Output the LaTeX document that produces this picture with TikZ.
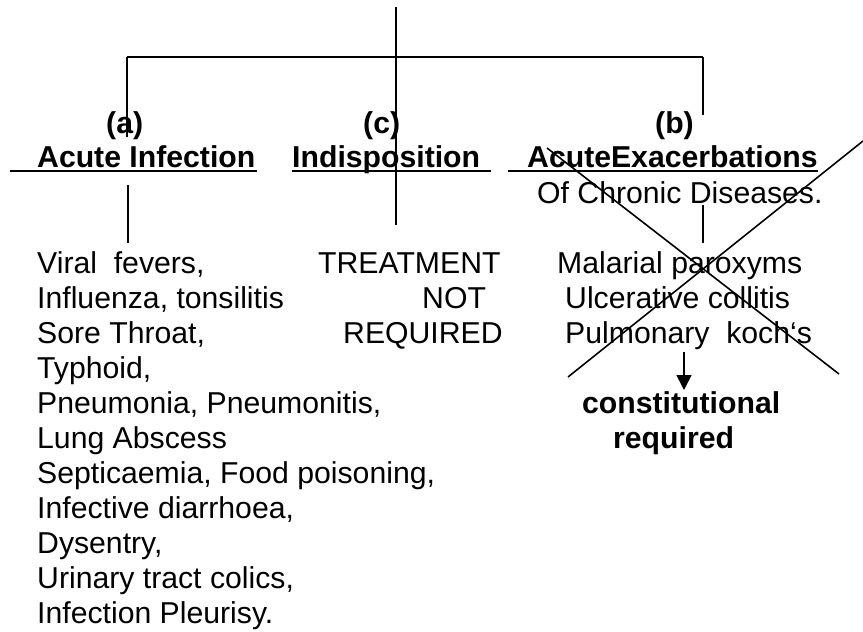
\documentclass[tikz,border=0pt]{standalone}
\usepackage{fontspec}
\setmainfont{Liberation Sans}
\usetikzlibrary{arrows.meta,positioning}

\begin{document}
\begin{tikzpicture}[x=1pt,y=-1pt,>={Triangle[width=15pt,length=15pt]}]
\tikzstyle{txt}=[anchor=base west,inner sep=0pt,font=\fontsize{30.2}{35}\selectfont]
\tikzstyle{hd}=[txt,font=\fontsize{30.2}{35}\selectfont\bfseries]
\tikzstyle{ln}=[line width=1.6pt]
\tikzstyle{ul}=[line width=2.8pt]
\useasboundingbox (0,0) rectangle (863,632);
% headings
\node[hd] (a) at (106,133) {(a)};
\node[hd] (c) at (363,133) {(c)};
\node[hd] (b) at (655,133) {(b)};
\node[hd] (acute) at (37,167) {Acute Infection};
\node[hd] (indis) at (292,167) {Indisposition};
\node[hd] (exac) at (527,167) {AcuteExacerbations};
\node[txt] (chron) at (537,203) {Of Chronic Diseases.};
\draw[ul] (10,171) -- (257,171);
\draw[ul] (292,171) -- (491,171);
\draw[ul] (508,171) -- (818,171);
% lists
\foreach \s [count=\i] in {{Viral\ \ fevers,},{Influenza, tonsilitis},{Sore Throat,},{Typhoid,},
  {Pneumonia, Pneumonitis,},{Lung Abscess},{Septicaemia, Food poisoning,},{Infective diarrhoea,},
  {Dysentry,},{Urinary tract colics,},{Infection Pleurisy.}}
  \node[txt] (inf\i) at (37,238+35*\i) {\s};
\node[txt] (tr1) at (318,273) {TREATMENT};
\node[txt] (tr2) at (422,308) {NOT};
\node[txt] (tr3) at (343,343) {REQUIRED};
\node[txt] (ch1) at (557,273) {Malarial paroxyms};
\node[txt] (ch2) at (565,308) {Ulcerative collitis};
\node[txt] (ch3) at (565,343) {Pulmonary\ \ koch‘s};
\node[hd] (con1) at (582,413) {constitutional};
\node[hd] (con2) at (613,448) {required};
% connectors
\coordinate (top) at (396,7);
\coordinate (mid) at (396,57);
\coordinate (cend) at (396,225);
\coordinate (lt) at (127,57);
\coordinate (rt) at (703,57);
\draw[ln] (top) -- (cend);
\draw[ln] (lt) -- (rt);
\draw[ln] (lt) -- (127,137);
\draw[ln] (rt) -- (703,115);
\draw[ln] (128,185) -- (128,243);
\draw[ln] (703,205) -- (703,243);
\draw[ln,->] (684,352) -- (684,390);
% crossed out
\draw[ln] (547,148) -- (839,374);
\draw[ln] (863,141) -- (568,377);
\end{tikzpicture}
\end{document}
